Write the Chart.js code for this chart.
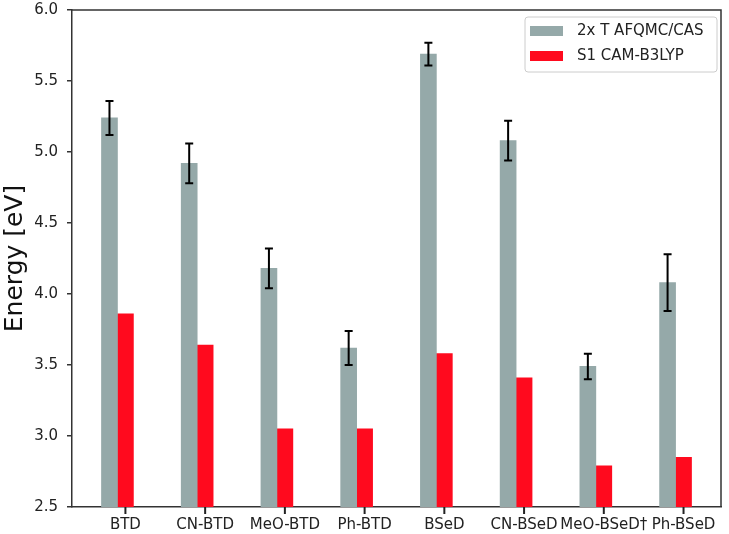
<!DOCTYPE html>
<html><head><meta charset="utf-8">
<script src="https://cdn.jsdelivr.net/npm/chart.js@4/dist/chart.umd.min.js"></script>
<style>html,body{margin:0;padding:0;background:#fff}#wrap{width:729px;height:534px;position:relative}</style>
</head><body><div id="wrap"><canvas id="c"></canvas></div>
<script>
const categories = ['BTD','CN-BTD','MeO-BTD','Ph-BTD','BSeD','CN-BSeD','MeO-BSeD\u2020','Ph-BSeD'];
const afqmcValues = [5.24, 4.92, 4.18, 3.62, 5.69, 5.08, 3.49, 4.08];
const afqmcErrors = [0.12, 0.14, 0.14, 0.12, 0.08, 0.14, 0.09, 0.20];
const camValues = [3.86, 3.64, 3.05, 3.05, 3.58, 3.41, 2.79, 2.85];
const yTicks = [2.5, 3.0, 3.5, 4.0, 4.5, 5.0, 5.5, 6.0];
const seriesLabels = ['2x T AFQMC/CAS', 'S1 CAM-B3LYP'];

const GRAY = '#95a9a9';
const RED = '#ff0a1e';
const SPINE = '#333333';
const FONT = 'DejaVu Sans';
const GRAY_SHIFT = 0.2;   // gray bar sits one bar-width left of the tick

const errorBars = {
  id: 'errorBars',
  afterDatasetsDraw(chart) {
    const {ctx, scales: {x, y}} = chart;
    ctx.save();
    ctx.strokeStyle = '#000';
    ctx.lineWidth = 2;
    afqmcValues.forEach((v, i) => {
      const px = x.getPixelForValue(i - GRAY_SHIFT);
      const t = y.getPixelForValue(v + afqmcErrors[i]);
      const b = y.getPixelForValue(v - afqmcErrors[i]);
      ctx.beginPath();
      ctx.moveTo(px, t); ctx.lineTo(px, b);
      ctx.moveTo(px - 4, t); ctx.lineTo(px + 4, t);
      ctx.moveTo(px - 4, b); ctx.lineTo(px + 4, b);
      ctx.stroke();
    });
    ctx.restore();
  }
};

const frame = {
  id: 'frame',
  afterDraw(chart) {
    const {ctx, chartArea: a, scales: {x}} = chart;
    ctx.save();
    ctx.strokeStyle = SPINE;
    ctx.lineWidth = 1.5;
    ctx.beginPath();
    ctx.moveTo(a.left, a.top); ctx.lineTo(a.right, a.top); ctx.lineTo(a.right, a.bottom);
    ctx.stroke();
    // x tick marks at each category
    ctx.lineWidth = 2;
    ctx.strokeStyle = '#222';
    categories.forEach((_, i) => {
      const px = x.getPixelForValue(i);
      ctx.beginPath();
      ctx.moveTo(px, a.bottom); ctx.lineTo(px, a.bottom + 7);
      ctx.stroke();
    });
    // legend box
    const w = 192, h = 55, lx = a.right - 4 - w, ly = a.top + 7;
    ctx.beginPath();
    ctx.roundRect(lx, ly, w, h, 3);
    ctx.fillStyle = 'rgba(255,255,255,0.8)';
    ctx.fill();
    ctx.strokeStyle = '#cccccc';
    ctx.lineWidth = 1;
    ctx.stroke();
    ctx.font = '15px "' + FONT + '"';
    ctx.textBaseline = 'middle';
    chart.data.datasets.forEach((ds, k) => {
      const cy = ly + 14 + k * 25;
      ctx.fillStyle = ds.backgroundColor;
      ctx.fillRect(lx + 5, cy - 5, 33, 10);
      ctx.fillStyle = '#222';
      ctx.fillText(ds.label, lx + 52, cy);
    });
    ctx.restore();
  }
};

new Chart(document.getElementById('c'), {
  type: 'bar',
  data: {
    datasets: [
      {label: seriesLabels[0], data: afqmcValues.map((v, i) => ({x: i - GRAY_SHIFT, y: v})),
       backgroundColor: GRAY, barThickness: 16, grouped: false},
      {label: seriesLabels[1], data: camValues.map((v, i) => ({x: i, y: v})),
       backgroundColor: RED, barThickness: 16, grouped: false}
    ]
  },
  options: {
    responsive: true,
    maintainAspectRatio: false,
    animation: false,
    layout: {padding: {top: 10, right: 8, left: 0, bottom: 0}},
    plugins: {legend: {display: false}, tooltip: {enabled: false}},
    scales: {
      x: {
        type: 'linear', min: -0.67, max: 7.47, offset: false,
        afterBuildTicks: s => { s.ticks = categories.map((_, i) => ({value: i})); },
        ticks: {callback: v => categories[v], autoSkip: false, maxRotation: 0, minRotation: 0,
                font: {family: FONT, size: 15}, color: '#222', padding: 9},
        grid: {offset: false, display: false, drawOnChartArea: false, drawTicks: false},
        border: {display: true, color: SPINE, width: 1.5},
        afterFit: s => { s.height = 27; s.paddingLeft = 0; s.paddingRight = 0; }
      },
      y: {
        min: 2.5, max: 6.0,
        afterBuildTicks: s => { s.ticks = yTicks.map(v => ({value: v})); },
        ticks: {callback: v => v.toFixed(1), font: {family: FONT, size: 15}, color: '#222', padding: 9},
        grid: {drawOnChartArea: false, drawTicks: true, tickLength: 5, color: SPINE, lineWidth: 1.5},
        border: {color: SPINE, width: 1.5},
        title: {display: true, text: 'Energy [eV]', font: {family: FONT, size: 25}, color: '#111', padding: 0},
        afterFit: s => { s.width = 72; s.paddingTop = 0; s.paddingBottom = 0; }
      }
    }
  },
  plugins: [errorBars, frame]
});
</script>
</body></html>
